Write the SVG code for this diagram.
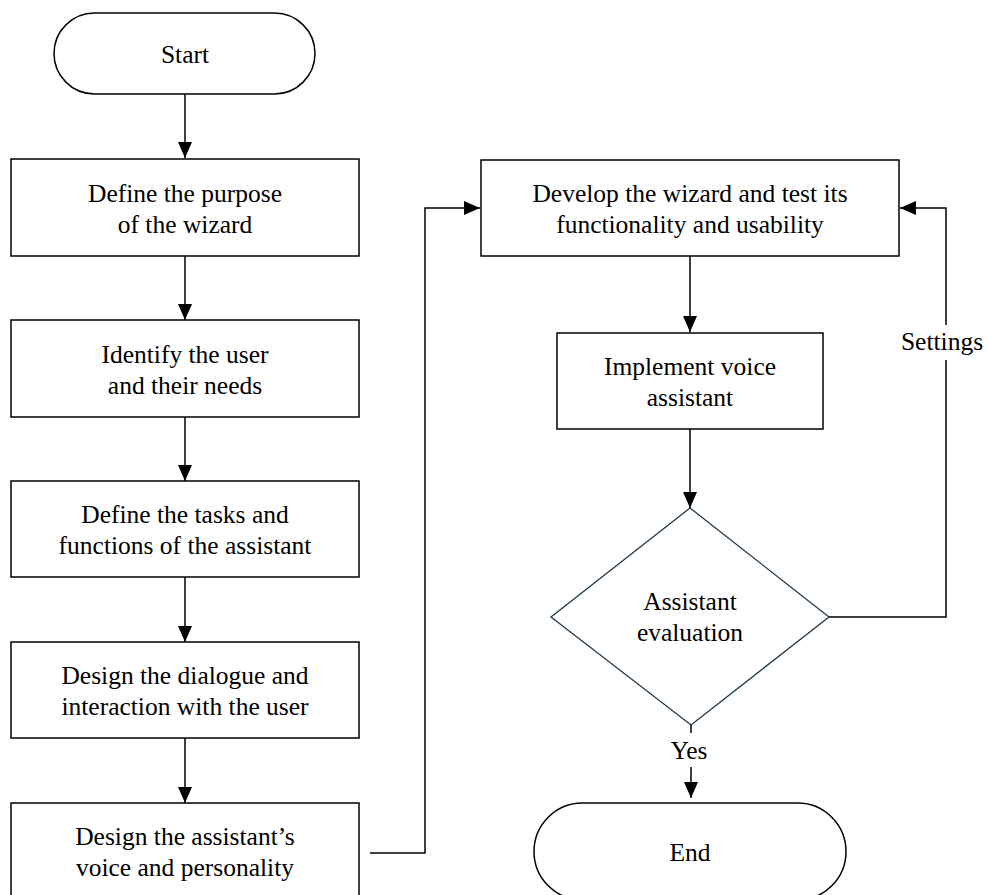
<svg xmlns="http://www.w3.org/2000/svg" width="987" height="895" viewBox="0 0 987 895">
<style>
.box{fill:#fff;stroke:#000;stroke-width:1.5}
.dia{fill:#fff;stroke:#1e3a4c;stroke-width:1.3}
.t{font-family:"Liberation Serif","Times New Roman",serif;font-size:25.5px;fill:#000;text-anchor:middle}
.c{fill:none;stroke:#000;stroke-width:1.5}
</style>
<defs>
<marker id="ah" viewBox="0 0 16 14" refX="16" refY="7" markerWidth="16" markerHeight="14" markerUnits="userSpaceOnUse" orient="auto">
<path d="M0,0 L16,7 L0,14 Z" fill="#000"/>
</marker>
</defs>
<rect width="987" height="895" fill="#fff"/>
<g id="connectors">
<line class="c" x1="185" y1="94" x2="185" y2="158" marker-end="url(#ah)"/>
<line class="c" x1="185" y1="256" x2="185" y2="320" marker-end="url(#ah)"/>
<line class="c" x1="185" y1="417" x2="185" y2="481" marker-end="url(#ah)"/>
<line class="c" x1="185" y1="577" x2="185" y2="642" marker-end="url(#ah)"/>
<line class="c" x1="185" y1="738" x2="185" y2="803" marker-end="url(#ah)"/>
<polyline class="c" points="370,853 425,853 425,208 480,208" marker-end="url(#ah)"/>
<line class="c" x1="690" y1="256" x2="690" y2="332" marker-end="url(#ah)"/>
<line class="c" x1="690" y1="429" x2="690" y2="508" marker-end="url(#ah)"/>
<polyline class="c" points="829,617 946,617 946,360"/>
<polyline class="c" points="946,325 946,208 900,208" marker-end="url(#ah)"/>
<line class="c" x1="691" y1="725" x2="691" y2="733"/>
<line class="c" x1="691" y1="767" x2="691" y2="798" marker-end="url(#ah)"/>
<text class="t" x="942" y="350">Settings</text>
<text class="t" x="689" y="759">Yes</text>
</g>
<g id="start">
<rect class="box" x="54" y="13" width="261" height="81" rx="40.5"/>
<text class="t" x="185" y="63">Start</text>
</g>
<g id="n1">
<rect class="box" x="11" y="159" width="348" height="97"/>
<text class="t" x="185" y="202">Define the purpose</text>
<text class="t" x="185" y="233">of the wizard</text>
</g>
<g id="n2">
<rect class="box" x="11" y="320" width="348" height="97"/>
<text class="t" x="185" y="363">Identify the user</text>
<text class="t" x="185" y="394">and their needs</text>
</g>
<g id="n3">
<rect class="box" x="11" y="481" width="348" height="96"/>
<text class="t" x="185" y="523">Define the tasks and</text>
<text class="t" x="185" y="554">functions of the assistant</text>
</g>
<g id="n4">
<rect class="box" x="11" y="642" width="348" height="96"/>
<text class="t" x="185" y="684">Design the dialogue and</text>
<text class="t" x="185" y="715">interaction with the user</text>
</g>
<g id="n5">
<rect class="box" x="11" y="803" width="348" height="100"/>
<text class="t" x="185" y="845">Design the assistant’s</text>
<text class="t" x="185" y="876">voice and personality</text>
</g>
<g id="n6">
<rect class="box" x="481" y="160" width="418" height="96"/>
<text class="t" x="690" y="202">Develop the wizard and test its</text>
<text class="t" x="690" y="233">functionality and usability</text>
</g>
<g id="n7">
<rect class="box" x="557" y="333" width="266" height="96"/>
<text class="t" x="690" y="375">Implement voice</text>
<text class="t" x="690" y="406">assistant</text>
</g>
<g id="decision">
<polygon class="dia" points="690,508 829,617 691,725 551,617"/>
<text class="t" x="690" y="610">Assistant</text>
<text class="t" x="690" y="641">evaluation</text>
</g>
<g id="end">
<rect class="box" x="534" y="803" width="312" height="97" rx="48.5"/>
<text class="t" x="690" y="861">End</text>
</g>
</svg>
